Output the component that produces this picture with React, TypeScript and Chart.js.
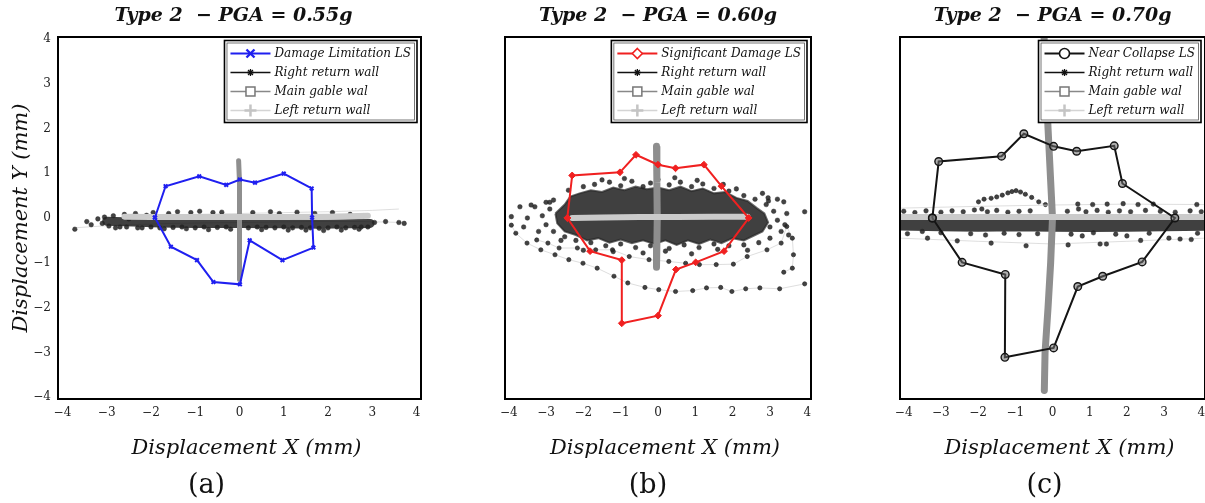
import React, { useEffect, useRef } from "react";
import { Chart, registerables } from "chart.js";

Chart.register(...registerables);

const FONT = '"DejaVu Serif", serif';

// ---------------- text ----------------
const panelTitles = ["Type 2  \u2212 PGA = 0.55g", "Type 2  \u2212 PGA = 0.60g", "Type 2  \u2212 PGA = 0.70g"];
const panelLetters = ["(a)", "(b)", "(c)"];
const xAxisTitle = "Displacement X (mm)";
const yAxisTitle = "Displacement Y (mm)";
const lsLabels = ["Damage Limitation LS", "Significant Damage LS", "Near Collapse LS"];
const wallLabels = ["Right return wall", "Main gable wal", "Left return wall"];
const tickValues = [-4, -3, -2, -1, 0, 1, 2, 3, 4];

// ---------------- panel (a) ----------------
const dlX = [-1.91, -1.67, -0.91, -0.30, 0.01, 0.35, 1.00, 1.63, 1.64, 1.67, 0.97, 0.23, 0.01, -0.59, -0.96, -1.55, -1.91];
const dlY = [0.01, 0.71, 0.93, 0.74, 0.86, 0.79, 0.99, 0.66, 0.01, -0.66, -0.94, -0.50, -1.48, -1.43, -0.94, -0.64, 0.01];

const aBandX = [-3.0, -2.4, -1.8, -1.0, 0.0, 1.0, 1.8, 2.5, 2.95];
const aBandY = [-0.07, -0.09, -0.11, -0.12, -0.12, -0.13, -0.14, -0.13, -0.12];
const aDotsX = [-3.72, -3.45, -3.35, -3.2, -3.1, -3.05, -2.95, -2.85, -2.7, -2.6, -2.5, -2.35, -2.2, -2.1, -1.95, -1.7, -1.6, -1.4, -1.2, -1.1, -0.9, -0.7, -0.6, -0.4, -0.2, 0.3, 0.5, 0.7, 0.9, 1.1, 1.3, 1.5, 1.7, 1.9, 2.1, 2.3, 2.5, 2.7, 2.8, 2.9, 3.05, 3.3, 3.6, 3.72,
  -2.8, -2.55, -2.3, -2.0, -1.8, -1.5, -1.3, -1.0, -0.8, -0.5, -0.3, 0.2, 0.4, 0.6, 0.8, 1.0, 1.2, 1.4, 1.6, 1.8, 2.0, 2.2, 2.4, 2.6, 2.75];
const aDotsY = [-0.25, -0.08, -0.15, -0.02, -0.12, 0.02, -0.18, 0.05, -0.2, 0.08, -0.02, 0.1, -0.22, 0.06, 0.12, -0.24, 0.1, 0.14, -0.24, 0.12, 0.15, -0.26, 0.12, 0.13, -0.25, 0.12, -0.26, 0.14, 0.1, -0.27, 0.13, -0.27, 0.1, -0.28, 0.12, -0.27, 0.08, -0.25, 0.05, -0.2, -0.1, -0.08, -0.1, -0.12,
  -0.22, -0.2, -0.22, -0.2, -0.22, -0.21, -0.2, -0.22, -0.2, -0.21, -0.2, -0.22, -0.2, -0.21, -0.22, -0.2, -0.22, -0.21, -0.22, -0.23, -0.22, -0.2, -0.22, -0.21, -0.2];
const aTrail1X = [-3.75, -2.8, -1.5, 0.0, 1.5, 2.8, 3.7];
const aTrail1Y = [-0.22, -0.16, -0.12, -0.1, -0.08, -0.08, -0.1];
const aTrail2X = [-2.2, -1.0, 0.0, 1.0, 2.0, 3.0, 3.6];
const aTrail2Y = [0.06, 0.08, 0.1, 0.12, 0.14, 0.17, 0.2];
const aGableX = [-0.02, 0.0, 0.01, 0.0, -0.01, 0.0];
const aGableY = [1.28, 0.8, 0.2, -0.4, -1.0, -1.37];
const aLeftX = [-2.6, -2.0, -1.0, 0.0, 1.0, 2.0, 2.9];
const aLeftY = [0.03, 0.02, 0.02, 0.02, 0.02, 0.03, 0.05];

// ---------------- panel (b) ----------------
const sdX = [-2.43, -2.30, -1.02, -0.59, 0.00, 0.47, 1.23, 1.70, 2.43, 1.77, 1.01, 0.48, 0.00, -0.97, -0.97, -1.82, -2.43];
const sdY = [0.00, 0.95, 1.02, 1.41, 1.19, 1.11, 1.19, 0.71, 0.00, -0.74, -0.99, -1.15, -2.18, -2.35, -0.94, -0.74, 0.00];

const bCloudX = [-2.75, -2.5, -2.35, -2.1, -1.8, -1.5, -1.2, -0.9, -0.6, -0.3, 0, 0.3, 0.6, 0.9, 1.2, 1.5, 1.8, 2.1, 2.4, 2.65, 2.85, 2.95, 2.8, 2.6, 2.3, 2.0, 1.7, 1.4, 1.1, 0.8, 0.5, 0.2, -0.1, -0.4, -0.7, -1.0, -1.3, -1.6, -1.9, -2.2, -2.5, -2.7, -2.75];
const bCloudY = [0.1, 0.3, 0.48, 0.55, 0.62, 0.58, 0.68, 0.62, 0.7, 0.64, 0.68, 0.62, 0.7, 0.6, 0.66, 0.55, 0.58, 0.45, 0.38, 0.22, 0.1, -0.1, -0.3, -0.38, -0.5, -0.45, -0.56, -0.48, -0.58, -0.5, -0.6, -0.5, -0.58, -0.5, -0.56, -0.48, -0.55, -0.45, -0.5, -0.38, -0.3, -0.12, 0.1];
const bDotsX = [-2.0, -1.7, -1.3, -1.0, -0.7, -0.4, -0.2, 0.3, 0.6, 0.9, 1.2, 1.5, 1.9, 2.3, 2.6,
  2.9, 3.1, 3.2, 3.0, 3.3, 2.95, 3.45, 3.4, 3.0, 2.7,
  2.3, 1.9, 1.5, 1.1, 0.7, 0.3, -0.2, -0.6, -1.0, -1.4, -1.8, -2.2, -2.5,
  -2.8, -3.0, -3.1, -2.9, -3.3, -3.5, -3.2, -2.8, -3.6,
  -3.93, -3.70, -3.40, -3.0, 2.96, 3.37, 3.93,
  -2.4, -1.5, -0.9, 0.0, 0.45, 1.05, 1.75, 2.1, -2.9, -2.6, -2.0, -1.2, -0.4, 0.2, 0.9, 1.6, 2.4, 2.8, 3.2, 3.5];
const bDotsY = [0.7, 0.75, 0.8, 0.72, 0.82, 0.7, 0.78, 0.74, 0.8, 0.7, 0.76, 0.66, 0.6, 0.5, 0.42,
  0.3, 0.15, -0.05, -0.2, -0.3, 0.45, 0.1, -0.15, -0.45, -0.55,
  -0.6, -0.62, -0.58, -0.66, -0.6, -0.68, -0.62, -0.66, -0.58, -0.62, -0.55, -0.5, -0.42,
  -0.3, -0.15, 0.05, 0.2, 0.25, 0.0, -0.3, 0.4, -0.2,
  0.03, 0.25, 0.29, 0.35, 0.38, 0.36, 0.14,
  0.62, 0.85, 0.88, 0.86, 0.9, 0.84, 0.75, 0.65, 0.35, -0.5, -0.72, -0.75, -0.78, -0.74, -0.8, -0.7, -0.72, 0.55, 0.42, -0.38];
const bOrbit1X = [-3.93, -3.81, -3.51, -3.14, -2.76, -2.39, -2.01, -1.63, -1.18, -0.81, -0.35, 0.02, 0.47, 0.93, 1.30, 1.68, 1.98, 2.35, 2.73, 3.26, 3.93];
const bOrbit1Y = [-0.16, -0.34, -0.56, -0.71, -0.82, -0.93, -1.01, -1.12, -1.30, -1.45, -1.55, -1.60, -1.64, -1.62, -1.56, -1.55, -1.64, -1.58, -1.56, -1.58, -1.47];
const bOrbit2X = [-3.25, -2.95, -2.65, -2.16, -1.67, -1.22, -0.77, -0.24, 0.29, 0.74, 1.11, 1.56, 2.02, 2.39, 2.92, 3.30, 3.45, 3.60, 3.63, 3.60, 3.37];
const bOrbit2Y = [-0.49, -0.56, -0.67, -0.67, -0.71, -0.71, -0.86, -0.93, -0.97, -1.01, -1.04, -1.04, -1.03, -0.86, -0.71, -0.56, -0.19, -0.45, -0.82, -1.12, -1.21];
const bGableX = [-0.04, -0.03, -0.02, -0.03, -0.04];
const bGableY = [1.6, 0.8, 0.0, -0.6, -1.1];
const bLeftX = [-2.3, -1.5, -0.5, 0.5, 1.5, 2.4];
const bLeftY = [0.0, 0.01, 0.02, 0.02, 0.03, 0.03];

// ---------------- panel (c) ----------------
const ncX = [-3.23, -3.06, -1.37, -0.77, 0.03, 0.65, 1.66, 1.88, 3.29, 2.41, 1.35, 0.68, 0.03, -1.28, -1.27, -2.43, -3.23];
const ncY = [0.00, 1.26, 1.38, 1.88, 1.60, 1.49, 1.61, 0.77, 0.00, -0.98, -1.30, -1.53, -2.90, -3.11, -1.26, -0.99, 0.00];

const cBandX = [-4.2, -3, -2, -1, 0, 1, 2, 3, 4.2];
const cBandY = [-0.13, -0.15, -0.16, -0.15, -0.16, -0.17, -0.16, -0.15, -0.14];
const cDotsX = [-4.0, -3.7, -3.4, -3.0, -2.7, -2.4, -2.1, -1.9, -1.75, -1.5, -1.2, -0.9, -0.6, 0.4, 0.7, 0.9, 1.2, 1.5, 1.8, 2.1, 2.5, 2.9, 3.3, 3.7, 4.0,
  -3.9, -3.5, -3.36, -3.0, -2.56, -2.2, -1.8, -1.65, -1.3, -0.9, -0.71, -0.4, 0.42, 0.5, 0.8, 1.1, 1.28, 1.45, 1.7, 2.0, 2.37, 2.6, 3.13, 3.43, 3.73, 3.9,
  0.68, 1.08, 1.47, 1.90, 2.30, 2.71, 3.88];
const cDotsY = [0.15, 0.12, 0.16, 0.13, 0.16, 0.14, 0.18, 0.2, 0.14, 0.17, 0.13, 0.15, 0.16, 0.15, 0.2, 0.14, 0.17, 0.13, 0.16, 0.14, 0.17, 0.15, 0.13, 0.16, 0.14,
  -0.35, -0.3, -0.45, -0.33, -0.51, -0.35, -0.38, -0.56, -0.34, -0.37, -0.62, -0.35, -0.6, -0.36, -0.4, -0.33, -0.58, -0.58, -0.36, -0.4, -0.5, -0.34, -0.45, -0.47, -0.48, -0.34,
  0.31, 0.30, 0.31, 0.32, 0.30, 0.31, 0.30];
const cArcX = [-1.99, -1.84, -1.65, -1.50, -1.35, -1.20, -1.09, -0.98, -0.86, -0.73, -0.56, -0.37, -0.19];
const cArcY = [0.36, 0.42, 0.44, 0.47, 0.51, 0.56, 0.59, 0.61, 0.58, 0.53, 0.46, 0.36, 0.30];
const cTrail1X = [-4.1, -2.0, 0.0, 2.0, 4.1];
const cTrail1Y = [0.22, 0.26, 0.29, 0.31, 0.3];
const cTrail2X = [-4.1, -2.0, 0.0, 2.0, 4.1];
const cTrail2Y = [-0.45, -0.52, -0.58, -0.52, -0.45];
const cGableX = [-0.23, -0.12, -0.03, 0.0, -0.05, -0.12, -0.2, -0.22];
const cGableY = [4.1, 2.0, 0.5, 0.0, -1.0, -2.0, -3.0, -3.85];
const cLeftX = [-4.2, -2.0, 0.0, 2.0, 4.2];
const cLeftY = [0.02, 0.02, 0.02, 0.02, 0.02];

// ---------------- helpers ----------------
const pts = (xs: number[], ys: number[]) => xs.map((x, i) => ({ x, y: ys[i] }));
const fmt = (v: number) => (v < 0 ? "\u2212" + Math.abs(v) : String(v));

const DOT = "rgba(35,35,35,0.85)";
const BAND = "rgba(22,22,22,0.82)";
const GABLE = "#8e8e8e";
const LEFTW = "#cbcbcb";
const TRAIL = "#d6d6d6";

function drawMarker(ctx: CanvasRenderingContext2D, m: any, x: number, y: number) {
  const r = m.size;
  ctx.save();
  ctx.strokeStyle = m.color;
  ctx.lineWidth = m.lw;
  ctx.fillStyle = m.fill || "#fff";
  ctx.beginPath();
  if (m.shape === "x") {
    ctx.moveTo(x - r, y - r); ctx.lineTo(x + r, y + r);
    ctx.moveTo(x - r, y + r); ctx.lineTo(x + r, y - r);
    ctx.stroke();
  } else if (m.shape === "diamond") {
    ctx.moveTo(x, y - r); ctx.lineTo(x + r, y); ctx.lineTo(x, y + r); ctx.lineTo(x - r, y); ctx.closePath();
    ctx.fill(); ctx.stroke();
  } else if (m.shape === "circle") {
    ctx.arc(x, y, r, 0, Math.PI * 2);
    ctx.fill(); ctx.stroke();
  } else if (m.shape === "star") {
    ctx.moveTo(x - r, y); ctx.lineTo(x + r, y);
    ctx.moveTo(x, y - r); ctx.lineTo(x, y + r);
    ctx.moveTo(x - r * 0.7, y - r * 0.7); ctx.lineTo(x + r * 0.7, y + r * 0.7);
    ctx.moveTo(x - r * 0.7, y + r * 0.7); ctx.lineTo(x + r * 0.7, y - r * 0.7);
    ctx.stroke();
  } else if (m.shape === "square") {
    ctx.rect(x - r, y - r, 2 * r, 2 * r);
    ctx.fill(); ctx.stroke();
  } else if (m.shape === "plus") {
    ctx.moveTo(x - r, y); ctx.lineTo(x + r, y);
    ctx.moveTo(x, y - r); ctx.lineTo(x, y + r);
    ctx.stroke();
  }
  ctx.restore();
}

const framePlugin = {
  id: "frame",
  afterDatasetsDraw(chart: any) {
    const { ctx, chartArea: ca } = chart;
    ctx.save();
    ctx.strokeStyle = "#000";
    ctx.lineWidth = 2;
    ctx.strokeRect(ca.left, ca.top, ca.right - ca.left, ca.bottom - ca.top);
    ctx.restore();
  },
};

const legendPlugin = {
  id: "wallLegend",
  afterDraw(chart: any, _a: any, opts: any) {
    const { ctx, chartArea: ca } = chart;
    const items = opts.items as any[];
    ctx.save();
    ctx.font = `italic 12px ${FONT}`;
    let maxW = 0;
    items.forEach((it) => { maxW = Math.max(maxW, ctx.measureText(it.label).width); });
    const w = 6 + 40 + 4 + maxW + 6;
    const h = 82;
    const right = ca.right - 4;
    const left = right - w;
    const top = ca.top + 3.5;
    ctx.fillStyle = "#fff";
    ctx.fillRect(left, top, w, h);
    ctx.strokeStyle = "#000";
    ctx.lineWidth = 1.6;
    ctx.strokeRect(left, top, w, h);
    ctx.strokeStyle = "#555";
    ctx.lineWidth = 0.8;
    ctx.strokeRect(left + 2.5, top + 2.5, w - 5, h - 5);
    items.forEach((it, i) => {
      const yy = top + 13 + i * 19;
      ctx.strokeStyle = it.line;
      ctx.lineWidth = it.lineWidth;
      ctx.beginPath();
      ctx.moveTo(left + 6, yy);
      ctx.lineTo(left + 46, yy);
      ctx.stroke();
      drawMarker(ctx, it.marker, left + 26, yy);
      ctx.fillStyle = "#111";
      ctx.textAlign = "left";
      ctx.textBaseline = "middle";
      ctx.fillText(it.label, left + 50, yy + 0.5);
    });
    ctx.restore();
  },
};

const textPlugin = {
  id: "panelText",
  afterDraw(chart: any, _a: any, opts: any) {
    const { ctx, chartArea: ca } = chart;
    const cx = (ca.left + ca.right) / 2;
    ctx.save();
    ctx.fillStyle = "#111";
    ctx.textAlign = "center";
    ctx.textBaseline = "middle";
    ctx.font = `bold italic 19px ${FONT}`;
    ctx.fillText(opts.title, cx + opts.titleDx, 16);
    ctx.font = `italic 21px ${FONT}`;
    ctx.fillText(opts.xTitle, cx + 7, 449);
    ctx.font = `27px ${FONT}`;
    ctx.fillText(opts.letter, cx + opts.letterDx, 486);
    if (opts.yTitle) {
      ctx.translate(22, (ca.top + ca.bottom) / 2);
      ctx.rotate(-Math.PI / 2);
      ctx.font = `italic 21px ${FONT}`;
      ctx.fillText(opts.yTitle, 0, 0);
    }
    ctx.restore();
  },
};

const wallLegendItems = [
  { label: wallLabels[0], line: "#111", lineWidth: 1.6, marker: { shape: "star", color: "#111", size: 3.5, lw: 1.3 } },
  { label: wallLabels[1], line: "#888", lineWidth: 1.6, marker: { shape: "square", color: "#777", size: 4.5, lw: 1.5, fill: "#fff" } },
  { label: wallLabels[2], line: "#d4d4d4", lineWidth: 1.6, marker: { shape: "plus", color: "#c4c4c4", size: 6, lw: 2.5 } },
];

type Spec = {
  idx: number;
  lsX: number[]; lsY: number[];
  lsColor: string; lsPoint: any; lsMarker: any;
  extra: any[];
  dots: { x: number; y: number }[];
  band: { x: number; y: number }[];
  bandWidth: number;
  gable: { x: number; y: number }[];
  gableWidth: number;
  left: { x: number; y: number }[];
  leftWidth: number;
  showY: boolean;
  padL: number; padR: number;
  titleDx: number; letterDx: number;
};

function buildConfig(s: Spec): any {
  const datasets: any[] = [
    {
      label: lsLabels[s.idx],
      data: pts(s.lsX, s.lsY),
      showLine: true,
      borderColor: s.lsColor,
      borderWidth: 2,
      ...s.lsPoint,
      order: 0,
      clip: 0,
    },
    {
      label: wallLabels[2],
      data: s.left,
      showLine: true,
      borderColor: LEFTW,
      borderWidth: s.leftWidth,
      borderCapStyle: "round",
      pointRadius: 0,
      order: 1,
      clip: 0,
    },
    {
      label: wallLabels[1],
      data: s.gable,
      showLine: true,
      borderColor: GABLE,
      borderWidth: s.gableWidth,
      borderCapStyle: "round",
      pointRadius: 0,
      order: 2,
      clip: 0,
    },
    {
      label: wallLabels[0],
      data: s.dots,
      showLine: false,
      pointRadius: 2.3,
      pointStyle: "circle",
      pointBackgroundColor: DOT,
      pointBorderColor: DOT,
      pointBorderWidth: 0.5,
      order: 3,
      clip: 0,
    },
    {
      label: "_band",
      data: s.band,
      showLine: true,
      borderColor: BAND,
      borderWidth: s.bandWidth,
      borderCapStyle: "round",
      pointRadius: 0,
      order: 4,
      clip: 0,
    },
    ...s.extra,
  ];
  return {
    type: "scatter",
    data: { datasets },
    options: {
      animation: false,
      responsive: false,
      devicePixelRatio: 1,
      events: [],
      layout: { padding: { left: s.padL, right: s.padR, top: 37, bottom: 503 - 399 - 30 } },
      scales: {
        x: {
          type: "linear",
          min: -4.1,
          max: 4.1,
          grid: { display: false, drawTicks: false },
          border: { display: false },
          ticks: { font: { family: FONT, size: 12 }, color: "#222", padding: 7, maxRotation: 0, autoSkip: false, callback: fmt },
          afterBuildTicks: (sc: any) => { sc.ticks = tickValues.map((v) => ({ value: v })); },
          afterFit: (sc: any) => { sc.height = 30; },
        },
        y: {
          type: "linear",
          display: s.showY,
          min: -4.04,
          max: 4.04,
          grid: { display: false, drawTicks: false },
          border: { display: false },
          ticks: { font: { family: FONT, size: 12 }, color: "#222", padding: 7, autoSkip: false, callback: fmt },
          afterBuildTicks: (sc: any) => { sc.ticks = tickValues.map((v) => ({ value: v })); },
          afterFit: (sc: any) => { sc.width = 58; },
        },
      },
      plugins: {
        legend: { display: false },
        tooltip: { enabled: false },
        title: { display: false },
        panelText: {
          title: panelTitles[s.idx],
          xTitle: xAxisTitle,
          yTitle: s.showY ? yAxisTitle : "",
          letter: panelLetters[s.idx],
          titleDx: s.titleDx,
          letterDx: s.letterDx,
        },
        wallLegend: {
          items: [{ label: lsLabels[s.idx], line: s.lsColor, lineWidth: 1.8, marker: s.lsMarker }, ...wallLegendItems],
        },
      },
    },
    plugins: [framePlugin, textPlugin, legendPlugin],
  };
}

const trail = (d: { x: number; y: number }[], withPoints: boolean) => ({
  label: "_trail",
  data: d,
  showLine: true,
  borderColor: TRAIL,
  borderWidth: 0.8,
  pointRadius: withPoints ? 2.1 : 0,
  pointBackgroundColor: DOT,
  pointBorderColor: DOT,
  order: 6,
  clip: 0,
});

const specA: Spec = {
  idx: 0,
  lsX: dlX, lsY: dlY,
  lsColor: "#1f1ff0",
  lsPoint: { pointStyle: "crossRot", pointRadius: 2.6, pointBorderWidth: 2, pointBorderColor: "#1f1ff0", pointBackgroundColor: "#1f1ff0" },
  lsMarker: { shape: "x", color: "#1f1ff0", size: 4, lw: 2.4 },
  extra: [trail(pts(aTrail1X, aTrail1Y), false), trail(pts(aTrail2X, aTrail2Y), false)],
  dots: pts(aDotsX, aDotsY),
  band: pts(aBandX, aBandY), bandWidth: 9,
  gable: pts(aGableX, aGableY), gableWidth: 5,
  left: pts(aLeftX, aLeftY), leftWidth: 6,
  showY: true, padL: 0, padR: 19,
  titleDx: -6, letterDx: -33,
};

const specB: Spec = {
  idx: 1,
  lsX: sdX, lsY: sdY,
  lsColor: "#f02020",
  lsPoint: { pointStyle: "rectRot", pointRadius: 3.4, pointBorderWidth: 1, pointBorderColor: "#f02020", pointBackgroundColor: "#f02020" },
  lsMarker: { shape: "diamond", color: "#f02020", size: 5, lw: 1.6, fill: "#fff" },
  extra: [
    {
      label: "_cloud",
      data: pts(bCloudX, bCloudY),
      showLine: true,
      fill: "shape",
      backgroundColor: "rgba(22,22,22,0.82)",
      borderColor: "rgba(40,40,40,0.7)",
      borderWidth: 2,
      pointRadius: 0,
      order: 5,
      clip: 0,
    },
    trail(pts(bOrbit1X, bOrbit1Y), true),
    trail(pts(bOrbit2X, bOrbit2Y), true),
  ],
  dots: pts(bDotsX, bDotsY),
  band: [],
  bandWidth: 0,
  gable: pts(bGableX, bGableY), gableWidth: 7,
  left: pts(bLeftX, bLeftY), leftWidth: 6,
  showY: false, padL: 22, padR: 19,
  titleDx: 0, letterDx: -10,
};

const specC: Spec = {
  idx: 2,
  lsX: ncX, lsY: ncY,
  lsColor: "#141414",
  lsPoint: { pointStyle: "circle", pointRadius: 3.8, pointBorderWidth: 1.4, pointBorderColor: "#141414", pointBackgroundColor: "rgba(110,110,110,0.55)" },
  lsMarker: { shape: "circle", color: "#141414", size: 5, lw: 1.6, fill: "#fff" },
  extra: [
    trail(pts(cTrail1X, cTrail1Y), false),
    trail(pts(cTrail2X, cTrail2Y), false),
    trail(pts(cArcX, cArcY), true),
  ],
  dots: pts(cDotsX, cDotsY),
  band: pts(cBandX, cBandY), bandWidth: 13,
  gable: pts(cGableX, cGableY), gableWidth: 7,
  left: pts(cLeftX, cLeftY), leftWidth: 6,
  showY: false, padL: 22, padR: 20,
  titleDx: 0, letterDx: -8,
};

function Panel({ spec, left, width }: { spec: Spec; left: number; width: number }) {
  const ref = useRef<HTMLCanvasElement>(null);
  useEffect(() => {
    const chart = new Chart(ref.current as HTMLCanvasElement, buildConfig(spec));
    return () => chart.destroy();
  }, [spec]);
  return (
    <canvas
      ref={ref}
      width={width}
      height={503}
      style={{ position: "absolute", left, top: 0, width, height: 503 }}
    />
  );
}

export default function App() {
  return (
    <div
      style={{
        position: "fixed",
        left: 0,
        top: 0,
        width: 1205,
        height: 503,
        overflow: "hidden",
        background: "#fff",
      }}
    >
      <Panel spec={specA} left={0} width={440} />
      <Panel spec={specB} left={425} width={405} />
      <Panel spec={specC} left={820} width={405} />
    </div>
  );
}
